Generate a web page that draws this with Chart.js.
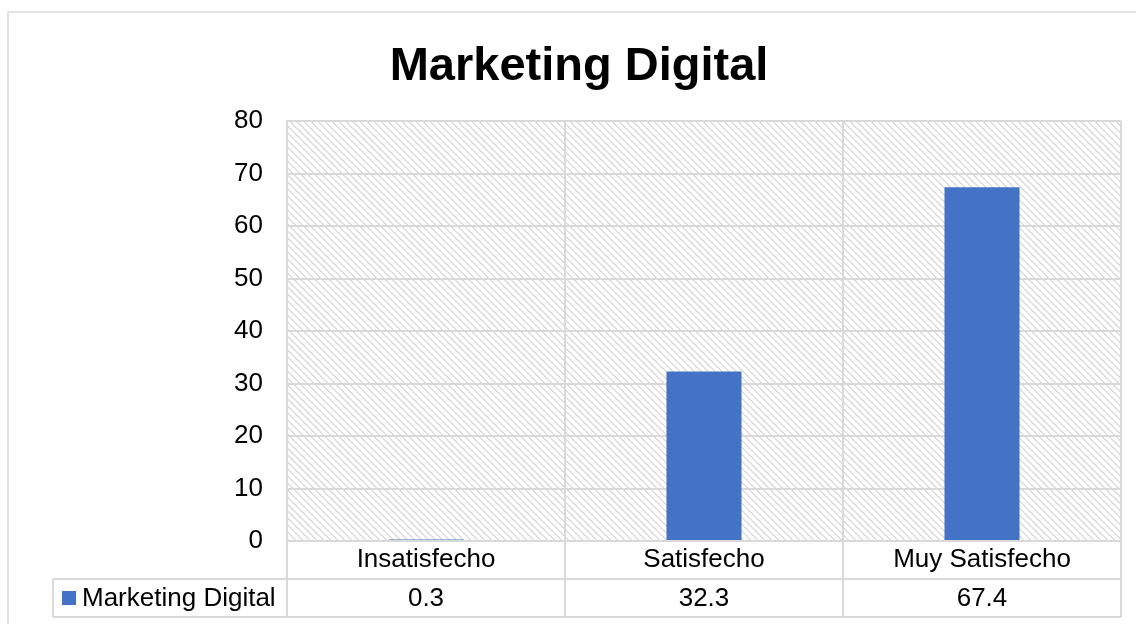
<!DOCTYPE html>
<html>
<head>
<meta charset="utf-8">
<script src="https://cdn.jsdelivr.net/npm/chart.js@4.4.1/dist/chart.umd.min.js"></script>
<style>
  html, body { margin: 0; padding: 0; background: #ffffff; }
  canvas { display: block; }
</style>
</head>
<body>
<canvas id="chart" width="1136" height="624"></canvas>
<script>
// Chart content
const chartTitle = 'Marketing Digital';
const seriesName = 'Marketing Digital';
const categories = ['Insatisfecho', 'Satisfecho', 'Muy Satisfecho'];
const values = [0.3, 32.3, 67.4];
const yTicks = [0, 10, 20, 30, 40, 50, 60, 70, 80];

const FONT = "'Liberation Sans', Arial, Helvetica, sans-serif";
const LINE = '#d9d9d9';
const BAR = '#4472C4';

// Diagonal hatch used as the plot area background
function makeHatch() {
  const s = 7;
  const tile = document.createElement('canvas');
  tile.width = s; tile.height = s;
  const g = tile.getContext('2d');
  g.fillStyle = '#ffffff';
  g.fillRect(0, 0, s, s);
  g.fillStyle = '#dedede';
  for (let i = 0; i < s; i++) {
    g.fillRect(i, i, 2, 1);
  }
  g.fillRect(0, s - 1, 1, 1);
  return tile;
}

const framePlugin = {
  id: 'frame',
  beforeDraw(chart) {
    const { ctx, chartArea: a } = chart;
    ctx.save();
    // outer chart border (left and top edges visible)
    ctx.strokeStyle = LINE;
    ctx.lineWidth = 1.5;
    ctx.beginPath();
    ctx.moveTo(8, chart.height);
    ctx.lineTo(8, 12);
    ctx.lineTo(chart.width, 12);
    ctx.stroke();
    // hatched plot area
    ctx.fillStyle = ctx.createPattern(makeHatch(), 'repeat');
    ctx.fillRect(a.left, a.top, a.right - a.left, a.bottom - a.top);
    // title
    ctx.fillStyle = '#000000';
    ctx.font = 'bold 47px ' + FONT;
    ctx.textAlign = 'center';
    ctx.textBaseline = 'alphabetic';
    ctx.fillText(chartTitle, 579, 80);
    ctx.restore();
  },
  afterDraw(chart) {
    // data table under the category axis
    const { ctx, chartArea: a } = chart;
    const xs = chart.scales.x;
    const n = categories.length;
    const cw = (a.right - a.left) / n;
    const rowTop = a.bottom;
    const rowMid = 579;
    const rowBot = 617;
    const legendLeft = 53;
    ctx.save();
    ctx.strokeStyle = LINE;
    ctx.lineWidth = 2;
    ctx.beginPath();
    // horizontal rules
    ctx.moveTo(legendLeft, rowMid); ctx.lineTo(a.right, rowMid);
    ctx.moveTo(legendLeft, rowBot); ctx.lineTo(a.right, rowBot);
    // legend cell left edge
    ctx.moveTo(legendLeft, rowMid); ctx.lineTo(legendLeft, rowBot);
    // column separators
    for (let i = 0; i <= n; i++) {
      const x = a.left + i * cw;
      ctx.moveTo(x, rowTop); ctx.lineTo(x, rowBot);
    }
    ctx.stroke();

    // legend key and series name
    const cy = (rowMid + rowBot) / 2;
    ctx.fillStyle = BAR;
    ctx.fillRect(62, cy - 7, 14, 14);
    ctx.fillStyle = '#000000';
    ctx.font = '26px ' + FONT;
    ctx.textAlign = 'left';
    ctx.textBaseline = 'middle';
    ctx.fillText(seriesName, 82, cy + 1);

    // values
    ctx.textAlign = 'center';
    values.forEach((v, i) => {
      ctx.fillText(v.toFixed(1), xs.getPixelForValue(i), cy + 1);
    });
    ctx.restore();
  }
};

new Chart(document.getElementById('chart'), {
  type: 'bar',
  data: {
    labels: categories,
    datasets: [{
      label: seriesName,
      data: values,
      backgroundColor: BAR,
      borderWidth: 0,
      categoryPercentage: 1,
      barPercentage: 0.27
    }]
  },
  options: {
    responsive: false,
    devicePixelRatio: 1,
    animation: false,
    layout: { padding: { top: 121, left: 0, right: 15, bottom: 0 } },
    plugins: {
      legend: { display: false },
      title: { display: false },
      tooltip: { enabled: false }
    },
    scales: {
      x: {
        grid: { color: LINE, lineWidth: 2, drawTicks: false, offset: true },
        border: { color: LINE, width: 2 },
        ticks: {
          color: '#000000',
          font: { family: FONT, size: 26 },
          padding: 3,
          maxRotation: 0
        },
        afterFit(scale) { scale.height = 83; }
      },
      y: {
        min: yTicks[0],
        max: yTicks[yTicks.length - 1],
        grid: { color: LINE, lineWidth: 2, drawTicks: false },
        border: { color: LINE, width: 2 },
        ticks: {
          stepSize: yTicks[1] - yTicks[0],
          color: '#000000',
          font: { family: FONT, size: 26 },
          padding: 24
        },
        afterFit(scale) { scale.width = 287; }
      }
    }
  },
  plugins: [framePlugin]
});
</script>
</body>
</html>
